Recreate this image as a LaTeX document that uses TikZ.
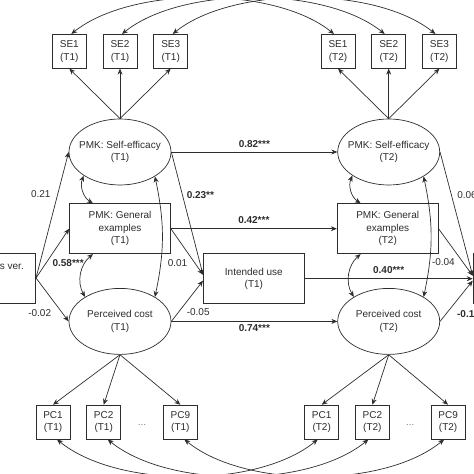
\documentclass[tikz,border=0pt]{standalone}
\usepackage{fontspec}
\setmainfont{Liberation Sans}
\usetikzlibrary{arrows.meta,positioning,calc,shapes.geometric}
\definecolor{ink}{RGB}{45,45,45}
\tikzset{
  latent/.style={ellipse,draw=ink,fill=white,minimum width=102pt,minimum height=66pt,
    inner xsep=-8pt,align=center,text=ink,line width=0.7pt},
  obsbox/.style={draw=ink,fill=white,minimum width=101pt,minimum height=50pt,inner sep=0pt,
    align=center,text=ink,line width=0.7pt},
  indbox/.style={draw=ink,fill=white,minimum size=34pt,inner sep=0pt,align=center,text=ink,line width=0.7pt},
  arr/.style={-{Stealth[length=6pt,width=5pt]},ink,line width=0.7pt},
  cov/.style={{Stealth[length=6pt,width=5pt]}-{Stealth[length=6pt,width=5pt]},ink,line width=0.7pt},
  coef/.style={font=\fontsize{10}{12}\selectfont,text=ink,inner sep=1pt},
  sig/.style={coef,font=\fontsize{10}{12}\selectfont\bfseries},
}
\begin{document}
\begin{tikzpicture}[x=1pt,y=1pt,font=\fontsize{10}{12.5}\selectfont]
  \useasboundingbox (0,0) rectangle (474,474);
  \clip (0,0) rectangle (474,474);
  % latent and observed variables
  \node[latent] (seA) at (120,322) {PMK: Self-efficacy\\(T1)};
  \node[obsbox,below=18pt of seA] (geA) {PMK: General\\examples\\(T1)};
  \node[latent,below=34pt of geA] (pcA) {Perceived cost\\(T1)};
  \node[latent,right=166pt of seA] (seB) {PMK: Self-efficacy\\(T2)};
  \node[obsbox,right=166pt of geA] (geB) {PMK: General\\examples\\(T2)};
  \node[latent,right=166pt of pcA] (pcB) {Perceived cost\\(T2)};
  \node[obsbox] (iu) at ($(geA.east)!0.5!(geB.west)+(0,-50)$) {Intended use\\(T1)};
  \node[obsbox,anchor=east] (cond) at (36,196) {};
  \node[anchor=east,inner sep=0pt,text=ink] (condtxt) at ([xshift=-12pt,yshift=11pt]cond.east) {s ver.};
  \node[obsbox,right=168pt of iu] (out) {};
  % indicators
  \node[indbox,above=50pt of seA] (se2a) {SE2\\(T1)};
  \node[indbox,left=16pt of se2a] (se1a) {SE1\\(T1)};
  \node[indbox,right=16pt of se2a] (se3a) {SE3\\(T1)};
  \node[indbox,above=50pt of seB] (se2b) {SE2\\(T2)};
  \node[indbox,left=16pt of se2b] (se1b) {SE1\\(T2)};
  \node[indbox,right=16pt of se2b] (se3b) {SE3\\(T2)};
  \node[indbox,below=50pt of pcA,xshift=-67pt] (pc1a) {PC1\\(T1)};
  \node[indbox,right=16pt of pc1a] (pc2a) {PC2\\(T1)};
  \node[indbox,right=42pt of pc2a] (pc9a) {PC9\\(T1)};
  \node[indbox,below=50pt of pcB,xshift=-67pt] (pc1b) {PC1\\(T2)};
  \node[indbox,right=16pt of pc1b] (pc2b) {PC2\\(T2)};
  \node[indbox,right=41pt of pc2b] (pc9b) {PC9\\(T2)};
  \node[text=gray,yshift=-3pt] (dotsA) at ($(pc2a)!0.5!(pc9a)$) {...};
  \node[text=gray,yshift=-3pt] (dotsB) at ($(pc2b)!0.5!(pc9b)$) {...};
  \foreach \i in {1,2,3} {
    \draw[arr] (seA.north) -- (se\i a.south);
    \draw[arr] (seB.north) -- (se\i b.south);
  }
  \foreach \i in {1,2,9} {
    \draw[arr] (pcA.south) -- (pc\i a.north);
    \draw[arr] (pcB.south) -- (pc\i b.north);
  }
  % indicator covariances over time
  \foreach \i in {1,2,3}
    \draw[cov] ([xshift=2pt]se\i a.north) .. controls +(60,48) and +(-60,48) .. ([xshift=-4pt]se\i b.north);
  \foreach \i in {1,2,9}
    \draw[cov] ([xshift=4pt]pc\i a.south) .. controls +(60,-49) and +(-60,-49) .. ([xshift=-4pt]pc\i b.south);
  % paths
  \draw[arr] (cond.east) -- node[coef,pos=0.67,left,xshift=-6pt]{0.21} (seA.west);
  \draw[arr] (cond.east) -- (geA.west);
  \draw[arr] (cond.east) -- node[coef,pos=0.81,left,xshift=-10pt]{-0.02} (pcA.west);
  \draw[arr] (seA.east) -- node[sig,above,yshift=3pt]{0.82***} (seB.west);
  \draw[arr] (geA.east) -- node[sig,above,yshift=4pt]{0.42***} (geB.west);
  \draw[arr] (pcA.east) -- node[sig,below,yshift=-2pt]{0.74***} (pcB.west);
  \draw[arr] (seA.east) -- node[sig,pos=0.35,right,xshift=3pt]{0.23**} ([yshift=4pt]iu.west);
  \draw[arr] (geA.east) -- node[coef,pos=0.74,left,xshift=-6pt]{0.01} ([yshift=4pt]iu.west);
  \draw[arr] (pcA.east) -- node[coef,pos=0.225,right,xshift=7pt]{-0.05} ([yshift=-2pt]iu.west);
  \draw[arr] (iu.east) -- node[sig,above,yshift=4pt]{0.40***} (out.west);
  \draw[arr] (seB.east) -- node[coef,pos=0.35,right,xshift=4.5pt]{0.06} ([yshift=3pt]out.west);
  \draw[arr] (geB.east) -- node[coef,pos=0.72,left,xshift=-7pt]{-0.04} ([yshift=3pt]out.west);
  \draw[arr] (pcB.east) -- node[sig,pos=0.175,right,xshift=10pt]{-0.1} ([yshift=-2pt]out.west);
  % covariances within time
  \draw[cov] (seA.213) to[bend right=40] ([xshift=-27pt]geA.north);
  \draw[cov] ([xshift=-27pt]geA.south) to[bend right=40] node[sig,pos=0.25,left]{0.58***} (pcA.145);
  \draw[cov] (seA.325) to[bend left=12] (pcA.35);
  \draw[cov] (seB.213) to[bend right=40] ([xshift=-27pt]geB.north);
  \draw[cov] ([xshift=-27pt]geB.south) to[bend right=40] (pcB.145);
  \draw[cov] (seB.325) to[bend left=12] (pcB.35);
\end{tikzpicture}
\end{document}
